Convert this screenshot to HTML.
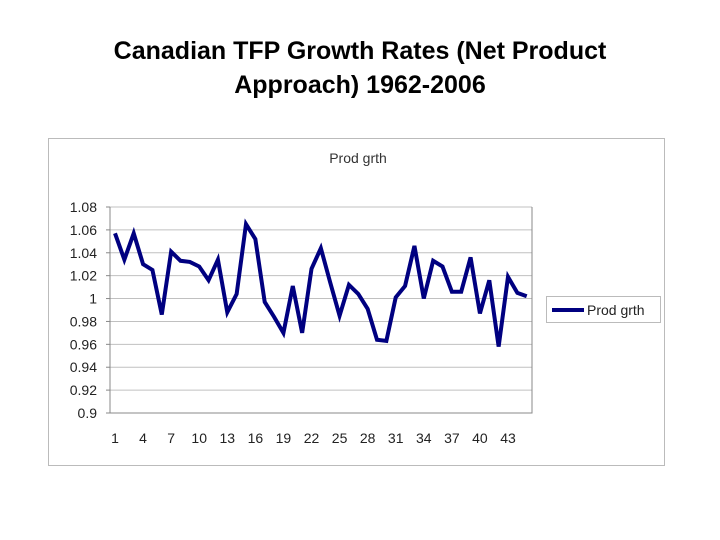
<!DOCTYPE html>
<html><head><meta charset="utf-8"><style>
body{margin:0;background:#fff;font-family:"Liberation Sans",Arial,sans-serif}
</style></head><body>
<div style="position:relative;width:720px;height:540px">
<div style="position:absolute;left:0;top:34px;width:720px;text-align:center;font-size:25px;font-weight:bold;line-height:34px;color:#000">Canadian TFP Growth Rates (Net Product<br>Approach) 1962-2006</div>
<svg width="720" height="540" style="position:absolute;left:0;top:0" id="svg"></svg>
</div>
<script>
const categories=[];for(let i=1;i<=45;i++)categories.push(i);
const values=[1.057,1.034,1.057,1.030,1.025,0.986,1.041,1.033,1.032,1.028,1.016,1.034,0.988,1.004,1.065,1.052,0.997,0.984,0.970,1.011,0.970,1.026,1.044,1.014,0.985,1.012,1.004,0.991,0.964,0.963,1.001,1.011,1.046,1.000,1.033,1.028,1.006,1.006,1.036,0.987,1.016,0.958,1.019,1.005,1.002];
const yTicks=[0.9,0.92,0.94,0.96,0.98,1,1.02,1.04,1.06,1.08];
const yTickLabels=["0.9","0.92","0.94","0.96","0.98","1","1.02","1.04","1.06","1.08"];
const xTickLabels=[1,4,7,10,13,16,19,22,25,28,31,34,37,40,43];
const svg=document.getElementById('svg');const NS='http://www.w3.org/2000/svg';
const L=110,R=532,T=207,B=413;
const y=v=>B-(v-0.9)/(0.18)*(B-T);
const x=c=>115+(c-1)*(508-115)/42;
function mk(t,a,p){const e=document.createElementNS(NS,t);for(const k in a)e.setAttribute(k,a[k]);(p||svg).appendChild(e);return e;}
const frame=mk('rect',{x:48.5,y:138.5,width:616,height:327,fill:'#fff',stroke:'#bbb'});


const ct=mk('text',{x:358,y:163,'text-anchor':'middle','font-size':14,fill:'#333'});ct.textContent='Prod grth';


yTicks.forEach((v,i)=>{
 const g=mk('line',{x1:L,x2:R,y1:y(v),y2:y(v),stroke:'#c0c0c0'});
 
 
 const tk=mk('line',{x1:L-4,x2:L,y1:y(v),y2:y(v),stroke:'#888'});
 
 
 const t=mk('text',{x:97,y:y(v)+5,'text-anchor':'end','font-size':14,fill:'#222'});t.textContent=yTickLabels[i];
 
 
});
const ax=mk('path',{d:`M${L} ${T}V${B}H${R}V${T}`,fill:'none',stroke:'#888'});


xTickLabels.forEach(c=>{
 const t=mk('text',{x:x(c),y:443,'text-anchor':'middle','font-size':14,fill:'#222'});t.textContent=c;
 
 
});
const line=mk('polyline',{points:values.map((v,i)=>x(categories[i])+','+y(v)).join(' '),fill:'none',stroke:'#000080','stroke-width':4,'stroke-linejoin':'miter'});


const lg=mk('rect',{x:546.5,y:296.5,width:114,height:26,fill:'#fff',stroke:'#bbb'});


const ll=mk('line',{x1:552,x2:584,y1:310,y2:310,stroke:'#000080','stroke-width':4});


const lt=mk('text',{x:587,y:315,'font-size':14,fill:'#222'});lt.textContent='Prod grth';


</script>
</body></html>
